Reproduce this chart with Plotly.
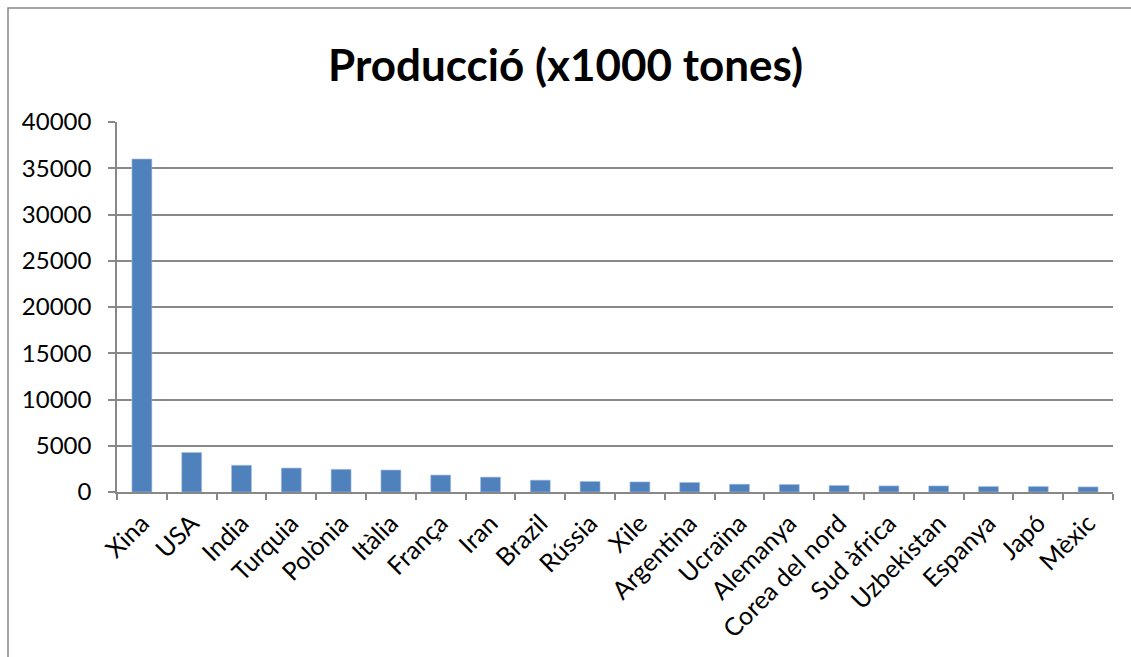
import plotly.graph_objects as go

# Apple production by country (thousands of tonnes)
countries = ["Xina", "USA", "India", "Turquia", "Polònia", "Itàlia", "França", "Iran",
             "Brazil", "Rússia", "Xile", "Argentina", "Ucraïna", "Alemanya",
             "Corea del nord", "Sud àfrica", "Uzbekistan", "Espanya", "Japó", "Mèxic"]
production = [36000, 4270, 2890, 2590, 2450, 2375, 1830, 1610,
              1280, 1140, 1090, 1030, 840, 810,
              700, 660, 655, 590, 590, 550]

title_text = "Producció (x1000 tones)"
y_ticks = [0, 5000, 10000, 15000, 20000, 25000, 30000, 35000, 40000]
y_tick_labels = [str(v) for v in y_ticks]

W, H = 1131, 657
L, R, T, B = 117, 18, 122, 165
FONT = "Lato, 'Open Sans', sans-serif"
GRID = "#888888"

fig = go.Figure(go.Bar(
    x=countries,
    y=production,
    marker=dict(color="#4F81BD", line=dict(color="#A7C0DE", width=0.6)),
))

pw, ph = W - L - R, H - T - B

def px_to_paper_x(px):
    return (px - L) / pw

def px_to_paper_y(py):
    return 1 - (py - T) / ph

fig.update_layout(
    width=W, height=H,
    margin=dict(l=L, r=R, t=T, b=B),
    paper_bgcolor="white", plot_bgcolor="white",
    bargap=0.6,
    showlegend=False,
    font=dict(family=FONT, color="black", size=24),
    title=dict(text="<b>" + title_text + "</b>", x=0.5, xanchor="center",
               y=1 - 66 / H, yanchor="middle",
               font=dict(family=FONT, size=44, color="black")),
    xaxis=dict(
        type="category",
        tickangle=-45,
        showline=True, linecolor=GRID, linewidth=1.5,
        ticks="outside", ticklen=6, tickcolor=GRID, tickwidth=1.5,
        tickson="boundaries",
        showgrid=False,
        tickfont=dict(family=FONT, size=25, color="black"),
        ticklabelstandoff=5,
    ),
    yaxis=dict(
        range=[0, 40000],
        tickvals=y_ticks,
        ticktext=y_tick_labels,
        showline=True, linecolor=GRID, linewidth=1.5,
        ticks="outside", ticklen=7, tickcolor=GRID, tickwidth=1.5,
        showgrid=True, gridcolor=GRID, gridwidth=1.5,
        zeroline=False,
        tickfont=dict(family=FONT, size=24, color="black"),
        ticklabelstandoff=12,
    ),
    shapes=[dict(
        type="rect", xref="paper", yref="paper",
        x0=px_to_paper_x(8), x1=px_to_paper_x(W + 5),
        y0=px_to_paper_y(H + 5), y1=px_to_paper_y(8),
        line=dict(color=GRID, width=1.5), fillcolor="rgba(0,0,0,0)",
        layer="below",
    )],
)

fig.write_html("out.html")
